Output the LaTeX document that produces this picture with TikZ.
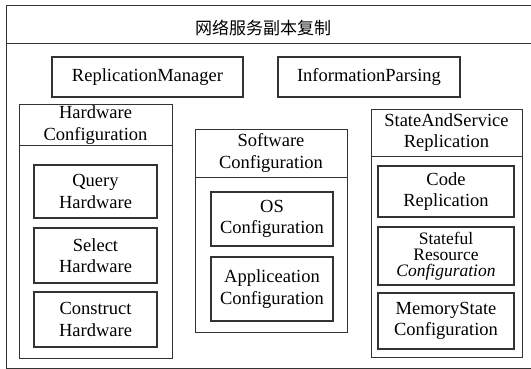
\documentclass[tikz,border=0pt]{standalone}
\usepackage{fontspec}
\setmainfont{Liberation Serif}
\newfontfamily\serif{Liberation Serif}
\newfontfamily\cjk{Noto Sans CJK SC}
\begin{document}
\begin{tikzpicture}[x=1pt,y=-1pt,
  frame/.style={draw=black!80, line width=1.1pt},
  box/.style={frame, align=center, inner sep=0pt, font=\serif\fontsize{18.5}{21.5}\selectfont},
  grp/.style={frame, inner sep=0pt},
  hdr/.style={frame, inner sep=0pt}]
\clip (0,0) rectangle (531,369);
\fill[white] (0,0) rectangle (531,369);
% outer frame
\node[grp, minimum width=540, minimum height=363, anchor=north west] (outer) at (6,5) {};
\node[grp, minimum width=540, minimum height=38, anchor=north west] (title) at (6,5) {};
\node[font=\cjk\fontsize{17}{20}\selectfont] (titletext) at (263,28) {网络服务副本复制};
% top boxes
\node[box, minimum width=191, minimum height=40] (rm) at (147.5,77) {ReplicationManager};
\node[box, minimum width=182, minimum height=40] (ip) at (369,77) {InformationParsing};
% hardware group
\node[grp, minimum width=153, minimum height=254, anchor=north west] (hw) at (19,104) {};
\node[hdr, minimum width=153, minimum height=41, anchor=north west] (hwh) at (19,104) {};
\node[box, draw=none] (hwt) at (95.5,125) {Hardware\\Configuration};
\node[box, minimum width=123, minimum height=53] (qh) at (95.5,191.5) {Query\\Hardware};
\node[box, minimum width=123, minimum height=55] (sh) at (95.5,255.5) {Select\\Hardware};
\node[box, minimum width=123, minimum height=55] (ch) at (95.5,319.5) {Construct\\Hardware};
% software group
\node[grp, minimum width=152, minimum height=203, anchor=north west] (sw) at (195,129) {};
\node[hdr, minimum width=152, minimum height=48, anchor=north west] (swh) at (195,129) {};
\node[box, draw=none] (swt) at (271,153) {Software\\Configuration};
\node[box, minimum width=122, minimum height=54] (os) at (272,219) {OS\\Configuration};
\node[box, minimum width=122, minimum height=64] (ac) at (272,289) {Appliceation\\Configuration};
% state group
\node[grp, minimum width=151, minimum height=248, anchor=north west] (ss) at (371,109) {};
\node[hdr, minimum width=151, minimum height=47, anchor=north west] (ssh) at (371,109) {};
\node[box, draw=none] (sst) at (446.5,132.5) {StateAndService\\Replication};
\node[box, minimum width=136, minimum height=58, font=\serif\fontsize{17.5}{16}\selectfont] (sr) at (446,256) {Stateful\\Resource\\\textit{Configuration}};
\node[box, minimum width=136, minimum height=51] (cr) at (446,191.5) {Code\\Replication};
\node[box, minimum width=136, minimum height=56] (ms) at (446,321) {MemoryState\\Configuration};
\end{tikzpicture}
\end{document}
